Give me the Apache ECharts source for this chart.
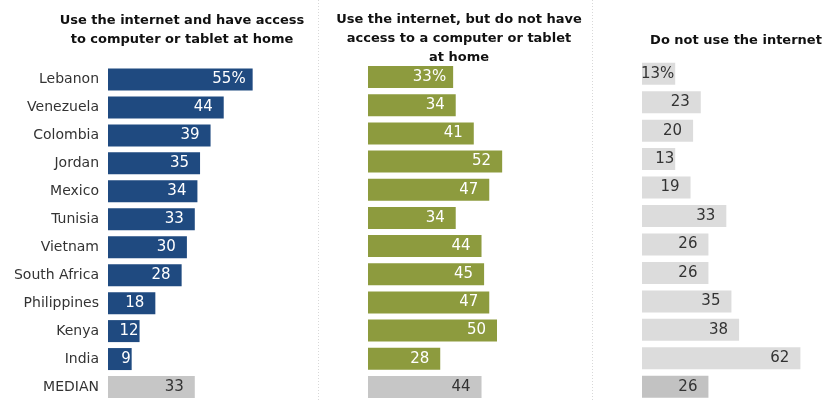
<!DOCTYPE html>
<html>
<head>
<meta charset="utf-8">
<script src="https://cdn.jsdelivr.net/npm/echarts@6/dist/echarts.min.js"></script>
<style>
  html, body { margin: 0; padding: 0; background: #fff; }
  #chart { width: 822px; height: 401px; }
</style>
</head>
<body>
<div id="chart"></div>
<script>
// Countries, top to bottom, with the median row last
const countries = ['Lebanon', 'Venezuela', 'Colombia', 'Jordan', 'Mexico', 'Tunisia',
  'Vietnam', 'South Africa', 'Philippines', 'Kenya', 'India', 'MEDIAN'];

// Share of adults (%) in each group
const internetWithComputer = [55, 44, 39, 35, 34, 33, 30, 28, 18, 12, 9, 33];
const internetNoComputer   = [33, 34, 41, 52, 47, 34, 44, 45, 47, 50, 28, 44];
const noInternet           = [13, 23, 20, 13, 19, 33, 26, 26, 35, 38, 62, 26];

const panelTitles = [
  'Use the internet and have access\nto computer or tablet at home',
  'Use the internet, but do not have\naccess to a computer or tablet\nat home',
  'Do not use the internet'
];

const FONT = '"DejaVu Sans", Arial, sans-serif';
const AXIS_MAX = 70;

const panels = [
  { data: internetWithComputer, color: '#1f4a80', median: '#c6c6c6', text: '#ffffff', medianText: '#333333',
    left: 108, scale: 2.63, top: 65.5, height: 337 },
  { data: internetNoComputer, color: '#8d9b3e', median: '#c6c6c6', text: '#ffffff', medianText: '#333333',
    left: 368, scale: 2.58, top: 63, height: 339 },
  { data: noInternet, color: '#dcdcdc', median: '#c2c2c2', text: '#333333', medianText: '#333333',
    left: 642, scale: 2.555, top: 59.5, height: 343 }
];

// Label inset from the bar end: tight on short bars so the number still fits inside
function labelInset(v, k, scale) {
  const len = v * scale;
  if (len < 40) return 1;
  return k === 0 ? 7 : 11;
}

const grids = [], xAxes = [], yAxes = [], series = [];
panels.forEach((p, i) => {
  grids.push({ left: p.left, top: p.top, width: p.scale * AXIS_MAX, height: p.height, containLabel: false });
  xAxes.push({ gridIndex: i, type: 'value', min: 0, max: AXIS_MAX, show: false });
  yAxes.push({
    gridIndex: i, type: 'category', data: countries, inverse: true,
    axisLine: { show: false }, axisTick: { show: false }, splitLine: { show: false },
    axisLabel: {
      show: i === 0, margin: 9, fontSize: 14, color: '#333', fontFamily: FONT
    }
  });
  const last = p.data.length - 1;
  series.push({
    type: 'bar', xAxisIndex: i, yAxisIndex: i, barWidth: 22,
    data: p.data.map((v, k) => ({
      value: v,
      itemStyle: { color: k === last ? p.median : p.color },
      label: {
        color: k === last ? p.medianText : p.text,
        distance: labelInset(v, k, p.scale)
      }
    })),
    label: {
      show: true, position: 'insideRight', fontSize: 15, fontFamily: FONT,
      formatter: (d) => d.dataIndex === 0 ? d.value + '%' : String(d.value)
    },
    silent: true, animation: false
  });
});

// Title anchors (the title component adds 5px of padding on the left)
const titleCenters = [177, 454, 731];
const titleTops = [6, 5, 26];

const option = {
  backgroundColor: '#ffffff',
  animation: false,
  grid: grids,
  xAxis: xAxes,
  yAxis: yAxes,
  series: series,
  title: panelTitles.map((t, i) => ({
    text: t, left: titleCenters[i], top: titleTops[i], textAlign: 'center',
    textStyle: { fontSize: 13, fontWeight: 'bold', color: '#111', fontFamily: FONT, lineHeight: 19 }
  })),
  graphic: [318.5, 592.5].map(x => ({
    type: 'line', silent: true,
    shape: { x1: x, y1: 0, x2: x, y2: 401 },
    style: { stroke: '#d8d8d8', lineWidth: 1, lineDash: [1, 2] }
  }))
};

const chart = echarts.init(document.getElementById('chart'), null, { renderer: 'canvas' });
chart.setOption(option);
</script>
</body>
</html>
